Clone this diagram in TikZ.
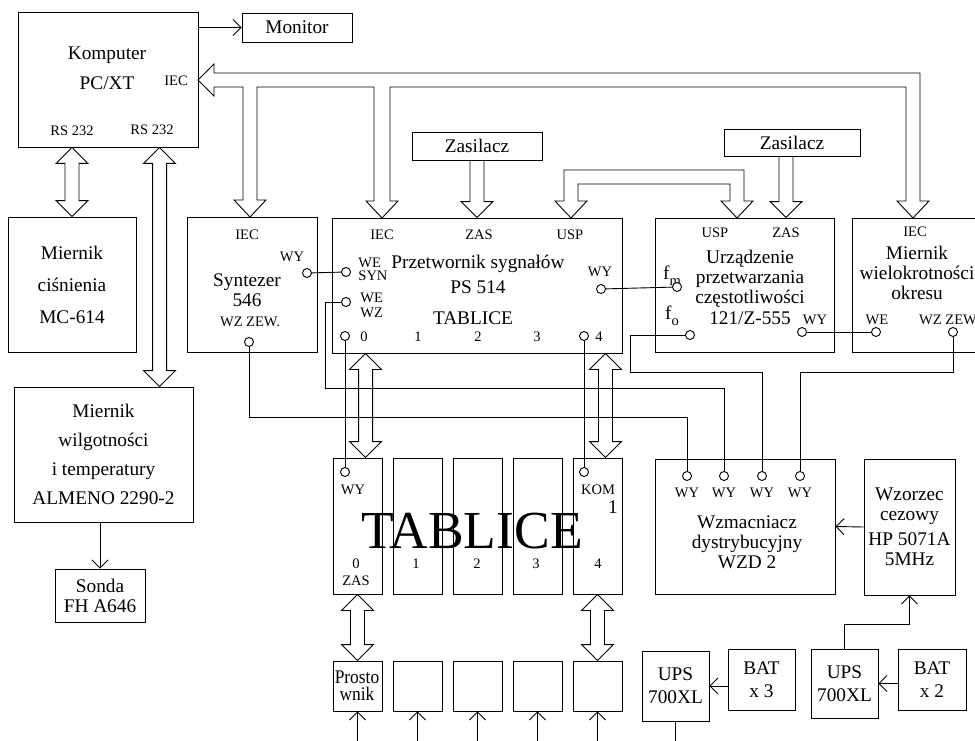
\documentclass[tikz,border=0pt]{standalone}
\usepackage{fontspec}
\setmainfont{Liberation Serif}
\usetikzlibrary{arrows.meta,calc}

\newcommand{\txtfont}{\fontsize{19.3}{20}\selectfont}
\newcommand{\lblfont}{\fontsize{14.5}{13}\selectfont}
\newcommand{\tabfont}{\fontsize{53.5}{54}\selectfont}

% hollow arrows: x from #1, ends at the heights of #1 and #2
\newcommand{\hollowboth}[2]{%
  \draw[bus] let \p1=(#1), \p2=(#2) in
    (\x1,\y1) -- (\x1+16pt,\y1-16pt) -- (\x1+7pt,\y1-16pt) -- (\x1+7pt,\y2+16pt)
    -- (\x1+16pt,\y2+16pt) -- (\x1,\y2) -- (\x1-16pt,\y2+16pt) -- (\x1-7pt,\y2+16pt)
    -- (\x1-7pt,\y1-16pt) -- (\x1-16pt,\y1-16pt) -- cycle;}
\newcommand{\hollowdown}[2]{%
  \draw[bus] let \p1=(#1), \p2=(#2) in
    (\x1-7pt,\y1) -- (\x1-7pt,\y2+16pt) -- (\x1-16pt,\y2+16pt) -- (\x1,\y2)
    -- (\x1+16pt,\y2+16pt) -- (\x1+7pt,\y2+16pt) -- (\x1+7pt,\y1);}

\begin{document}
\begin{tikzpicture}[x=1pt,y=-1pt,line width=0.9pt,
  box/.style={draw,inner sep=0pt,font=\txtfont,align=center},
  txt/.style={font=\txtfont,inner sep=0pt,align=center},
  lbl/.style={font=\lblfont,inner sep=0pt},
  port/.style={circle,draw,fill=white,minimum size=9pt,inner sep=0pt},
  bus/.style={line join=miter},
  arr/.style={-{Straight Barb[length=8pt,width=16pt]}}]
\useasboundingbox (0,0) rectangle (975,741);

% komputer
\node[box,minimum width=180pt,minimum height=135pt] (komp) at (108,79.5) {};
\node[txt] (kompt) at (107,68) {Komputer\\[10pt]PC/XT};
\node[lbl] (kompiec) at (176,81) {IEC};
\node[lbl] (komprs1) at (72,131) {RS 232};
\node[lbl] (komprs2) at (152,130) {RS 232};
\node[box,minimum width=110pt,minimum height=29pt] (mon) at (297,27.5) {Monitor};
\draw[arr] (komp.east |- mon) -- (mon.west);

% left column
\node[box,minimum width=128pt,minimum height=135pt] (mc) at (72,284.5) {Miernik\\[12pt]ciśnienia\\[12pt]MC-614};
\node[box,minimum width=179pt,minimum height=135pt] (mwil) at (103.5,454.5) {Miernik\\[9pt]wilgotności\\[9pt]i temperatury\\[9pt]ALMENO 2290-2};
\node[box,minimum width=90pt,minimum height=53pt] (sonda) at (100,595.5) {Sonda\\FH A646};
\draw[arr] (sonda.north |- mwil.south) -- (sonda.north);

% syntezer
\node[box,minimum width=130pt,minimum height=135pt] (syn) at (252,284.5) {};
\node[lbl] (syniec) at (247,235) {IEC};
\node[lbl] (synwyl) at (292,257) {WY};
\node[txt] (synt) at (247,290) {Syntezer\\546};
\node[lbl] (synzew) at (250,322) {WZ ZEW.};
\node[port] (synwy) at (307,273) {};
\node[port] (synwz) at (249,342) {};

% przetwornik
\node[box,minimum width=290pt,minimum height=135pt] (ps) at (477,285.5) {};
\node[lbl] (psiec) at (382,235) {IEC};
\node[lbl] (pszas) at (479,235) {ZAS};
\node[lbl] (psusp) at (570,235) {USP};
\node[txt] (pst) at (478,274.5) {Przetwornik sygnałów\\[5pt]PS 514};
\node[txt] (pstab) at (473,318) {TABLICE};
\node[lbl,anchor=west,align=left] (pssyn) at (358,269.5) {WE\\SYN};
\node[lbl,anchor=west,align=left] (pswz) at (360,305.5) {WE\\[2pt]WZ};
\foreach \d/\x in {0/364,1/418,2/478,3/537,4/599}
  \node[lbl] (psd\d) at (\x,337) {\d};
\node[lbl] (pswyl) at (600,272) {WY};
\node[port] (pse1) at (346,272) {};
\node[port] (pse2) at (346,302) {};
\node[port] (ps0) at (345,336) {};
\node[port] (ps4) at (584,336) {};
\node[port] (pswy) at (601,289) {};

% zasilacze
\node[box,minimum width=130pt,minimum height=28pt] (zas1) at (477,146) {Zasilacz};
\node[box,minimum width=136pt,minimum height=27pt] (zas2) at (792,142.5) {Zasilacz};

% urzadzenie
\node[box,minimum width=179pt,minimum height=134pt] (urz) at (744.5,285) {};
\node[lbl] (urzusp) at (715,233) {USP};
\node[lbl] (urzzas) at (786,233) {ZAS};
\node[txt] (urzt) at (750,287) {Urządzenie\\przetwarzania\\częstotliwości\\[1pt]121/Z-555};
\node[txt] (urzfml) at (672,276) {f\raisebox{-6pt}{\lblfont m}};
\node[txt] (urzfol) at (672,316) {f\raisebox{-6pt}{\lblfont o}};
\node[lbl] (urzwyl) at (815,320) {WY};
\node[port] (urzfm) at (677,287) {};
\node[port] (urzfo) at (690,335) {};
\node[port] (urzwy) at (802,332) {};

% miernik wielokrotnosci
\node[box,minimum width=133pt,minimum height=134pt] (mwok) at (918.5,285) {};
\node[lbl] (mwiec) at (915,232) {IEC};
\node[txt] (mwokt) at (917,273) {Miernik\\wielokrotności\\okresu};
\node[lbl] (mwwel) at (877,320) {WE};
\node[lbl] (mwzew) at (948,320) {WZ ZEW};
\node[port] (mwwe) at (876,332) {};
\node[port] (mwwz) at (953,332) {};

% tablice
\foreach \i in {0,...,4}{
  \node[box,minimum width=49pt,minimum height=136pt] (t\i) at ({357.5+60*\i},526) {};
  \node[box,minimum width=49pt,minimum height=50pt] (p\i) at ({357.5+60*\i},686) {};
}
\node[port] (t0p) at (345,472) {};
\node[port] (t4p) at (584,472) {};
\node[lbl] (t0wy) at (353,490) {WY};
\node[lbl] (t0zas) at (356,581) {ZAS};
\node[lbl] (t4kom) at (598,490) {KOM};
\node[txt] (t4one) at (613,507) {1};
\foreach \d/\x in {0/356,1/416,2/477,3/536,4/598}
  \node[lbl] (td\d) at (\x,564) {\d};
\node[font=\tabfont,inner sep=0pt] (tab) at (472,531) {TABLICE};
\node[txt] (p0t) at (357,686) {\scalebox{0.9}[1]{Prosto}\\[-3pt]\scalebox{0.9}[1]{wnik}};

% wzmacniacz, wzorzec, ups
\node[box,minimum width=180pt,minimum height=135pt] (wzd) at (745,526.5) {};
\foreach \i/\x in {1/687,2/724,3/762,4/800}{
  \node[port] (wy\i) at (\x,476) {};
  \node[lbl] (wyl\i) at (\x,493) {WY};
}
\node[txt] (wzdt) at (747,542) {Wzmacniacz\\dystrybucyjny\\WZD 2};
\node[box,minimum width=91pt,minimum height=136pt] (wzc) at (909.5,527) {Wzorzec\\cezowy\\[5pt]HP 5071A\\5MHz};
\node[box,minimum width=67pt,minimum height=70pt] (ups1) at (675.5,686) {UPS\\[3pt]700XL};
\node[box,minimum width=67pt,minimum height=61pt] (bat1) at (761.5,679.5) {BAT\\[3pt]x 3};
\node[box,minimum width=67pt,minimum height=69pt] (ups2) at (844.5,683.5) {UPS\\[3pt]700XL};
\node[box,minimum width=68pt,minimum height=61pt] (bat2) at (932,679.5) {BAT\\[3pt]x 2};

% hollow arrows
\draw[bus] (198,80) -- (214,64) -- (214,73) -- (920,73) -- (920,201) -- (929,201)
  -- (913,218) -- (897,201) -- (906,201) -- (906,87) -- (390,87) -- (390,201)
  -- (398,201) -- (382,218) -- (366,201) -- (374,201) -- (374,87) -- (257,87)
  -- (257,200) -- (266,200) -- (250,217) -- (234,200) -- (243,200) -- (243,87)
  -- (214,87) -- (214,96) -- cycle;
\draw[bus] (571,218) -- (587,201) -- (578,201) -- (578,184) -- (730,184) -- (730,201)
  -- (721,201) -- (737,218) -- (753,201) -- (744,201) -- (744,170) -- (564,170)
  -- (564,201) -- (555,201) -- cycle;
\hollowboth{komp.south -| mc.north}{mc.north}
\hollowboth{$(komp.south west)+(142,0)$}{mwil.north}
\hollowdown{zas1.south}{ps.north}
\hollowdown{$(zas2.south)+(-6,0)$}{urz.north}
\hollowboth{$(ps.south west)+(34,0)$}{t0.north}
\hollowboth{$(ps.south east)+(-17,0)$}{t4.north}
\hollowboth{t0.south}{p0.north}
\hollowboth{t4.south}{p4.north}

% wires
\draw (synwy) -- (pse1);
\draw (pswy) -- (urzfm);
\draw (urzwy) -- (mwwe);
\draw (ps0) -- (t0p);
\draw (ps4) -- (t4p);
\draw (synwz) -- ++(0,75) -| (wy1);
\draw (pse2) -- ++(-21,0) -- ++(0,86) -| (wy2);
\draw (urzfo) -- ++(-60,0) -- ++(0,37) -| (wy3);
\draw (mwwz) -- ++(0,40) -| (wy4);
\draw[arr] (wzc.west) -- (wzd.east);
\draw[arr] (ups2.north) -- ++(0,-24) -| (wzc.south);
\draw[arr] (bat1.west |- ups1) -- (ups1.east);
\draw[arr] (bat2.west |- ups2) -- (ups2.east);
\draw (ups1.south) -- ++(0,30);
\foreach \i in {0,...,4}
  \draw[arr] (p\i.south) ++(0,40) -- (p\i.south);
\end{tikzpicture}
\end{document}
